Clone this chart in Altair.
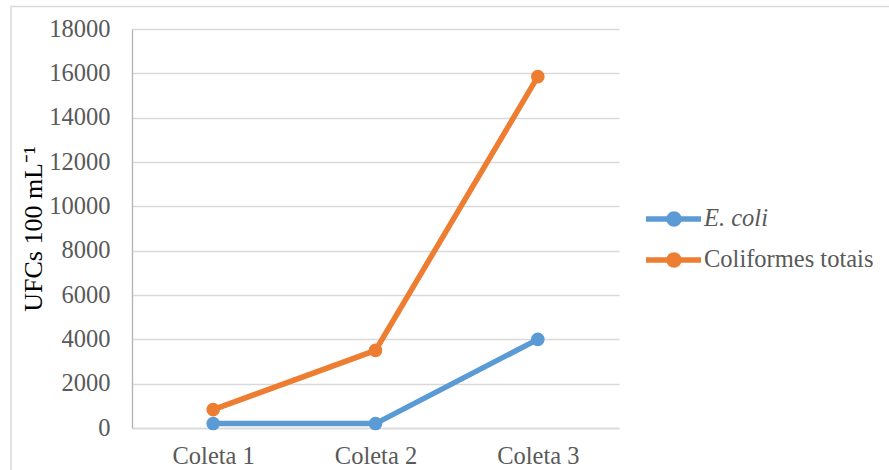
import altair as alt
import pandas as pd

categories = ["Coleta 1", "Coleta 2", "Coleta 3"]
series_names = ["E. coli", "Coliformes totais"]
ecoli = [200, 200, 4000]
coliformes = [830, 3500, 15850]
y_ticks = [0, 2000, 4000, 6000, 8000, 10000, 12000, 14000, 16000, 18000]
colors = ["#5B9BD5", "#ED7D31"]

rows = []
for c, v in zip(categories, ecoli):
    rows.append({"Coleta": c, "Serie": series_names[0], "Valor": v})
for c, v in zip(categories, coliformes):
    rows.append({"Coleta": c, "Serie": series_names[1], "Valor": v})
df = pd.DataFrame(rows)

FONT = "Liberation Serif"
TXT = "#595959"
FS = 24.5

x_enc = alt.X("Coleta:N", sort=categories, title=None,
              axis=alt.Axis(labelAngle=0, labelFont=FONT, labelFontSize=FS, labelColor=TXT,
                            ticks=False, tickSize=0, labelPadding=16, domain=True,
                            domainColor="#d9d9d9", domainWidth=1.3, grid=False))
y_enc = alt.Y("Valor:Q", title="UFCs 100 mL⁻¹",
              scale=alt.Scale(domain=[0, 18000], nice=False),
              axis=alt.Axis(values=y_ticks, format="d", labelFont=FONT, labelFontSize=FS,
                            labelColor=TXT, ticks=False, tickSize=0, labelPadding=22,
                            domainColor="#b3b3b3", domainWidth=1.3,
                            gridColor="#d9d9d9", gridWidth=1.3,
                            titleFont=FONT, titleFontSize=26, titleColor="#000000",
                            titleFontWeight="normal", titleX=-91, titleBaseline="alphabetic"))
color_scale = alt.Scale(domain=series_names, range=colors)

legend = alt.Legend(
    title=None, orient="none", legendX=546, legendY=177, padding=0,
    symbolType="M-4.5,0H1M-2.2,0A0.5,0.5 0 1,1 -1.2,0A0.5,0.5 0 1,1 -2.2,0Z",
    symbolSize=400, symbolStrokeWidth=5.5, symbolOpacity=1,
    labelFont=FONT, labelFontSize=FS, labelColor=TXT, labelOffset=0, rowPadding=9,
    labelLimit=300,
    labelFontStyle=alt.ExprRef("datum.label == 'E. coli' ? 'italic' : 'normal'"),
)

lines = alt.Chart(df).mark_line(strokeWidth=5.5).encode(
    x=x_enc, y=y_enc,
    color=alt.Color("Serie:N", scale=color_scale, sort=series_names, legend=legend),
    detail="Serie:N",
)
points = alt.Chart(df).mark_point(filled=True, size=185, opacity=1).encode(
    x=x_enc, y=y_enc,
    color=alt.Color("Serie:N", scale=color_scale, sort=series_names, legend=legend),
)

border = alt.Chart(pd.DataFrame({"a": [0]})).mark_rect(
    fill=None, stroke="#d9d9d9", strokeWidth=1.5, clip=False
).encode(
    x=alt.value(-121), x2=alt.value(900), y=alt.value(-22.5), y2=alt.value(600)
)

chart = alt.layer(border, lines, points).properties(
    width=487, height=399,
    autosize=alt.AutoSizeParams(type="none"),
    padding={"left": 132, "top": 29, "right": 270, "bottom": 42},
    background="white",
).configure_view(stroke=None)

chart.save("out.html", embed_options={"renderer": "svg", "actions": False})
